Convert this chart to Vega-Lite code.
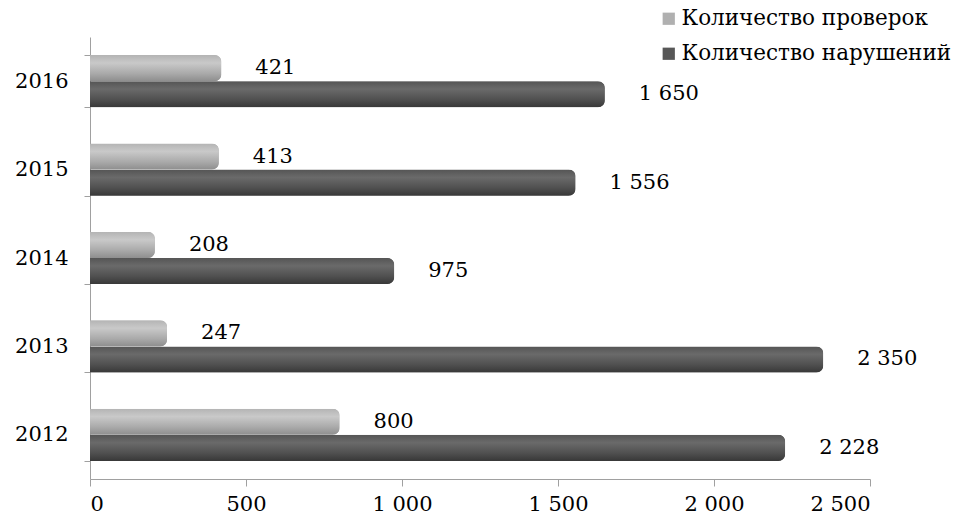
{
  "$schema": "https://vega.github.io/schema/vega-lite/v6.json",
  "width": 780,
  "height": 442,
  "autosize": {"type": "none"},
  "padding": {"left": 90, "top": 37, "right": 86, "bottom": 43},
  "background": "white",
  "config": {
    "locale": {"number": {"decimal": ",", "thousands": " ", "grouping": [3], "currency": ["", ""]}},
    "font": "DejaVu Serif",
    "view": {"stroke": null}
  },
  "data": {
    "values": [
      {"year": "2016", "series": "Количество проверок", "value": 421},
      {"year": "2016", "series": "Количество нарушений", "value": 1650},
      {"year": "2015", "series": "Количество проверок", "value": 413},
      {"year": "2015", "series": "Количество нарушений", "value": 1556},
      {"year": "2014", "series": "Количество проверок", "value": 208},
      {"year": "2014", "series": "Количество нарушений", "value": 975},
      {"year": "2013", "series": "Количество проверок", "value": 247},
      {"year": "2013", "series": "Количество нарушений", "value": 2350},
      {"year": "2012", "series": "Количество проверок", "value": 800},
      {"year": "2012", "series": "Количество нарушений", "value": 2228}
    ]
  },
  "encoding": {
    "y": {
      "field": "year", "type": "nominal", "sort": "descending",
      "scale": {"paddingInner": 0.41, "paddingOuter": 0.205},
      "axis": {
        "title": null, "tickBand": "extent", "domainColor": "#a0a0a0", "tickColor": "#a0a0a0",
        "tickSize": 6, "labelFont": "DejaVu Serif", "labelFontSize": 21, "labelColor": "#000", "labelPadding": 16
      }
    },
    "yOffset": {
      "field": "series", "type": "nominal",
      "sort": ["Количество проверок", "Количество нарушений"],
      "scale": {"paddingInner": 0}
    },
    "x": {
      "field": "value", "type": "quantitative",
      "scale": {"domain": [0, 2500]},
      "axis": {
        "title": null, "values": [0, 500, 1000, 1500, 2000, 2500], "format": ",d", "grid": false,
        "domainColor": "#a0a0a0", "tickColor": "#a0a0a0", "tickSize": 7,
        "labelFont": "DejaVu Serif", "labelFontSize": 21, "labelColor": "#000", "labelPadding": 7
      }
    }
  },
  "layer": [
    {
      "mark": {"type": "bar", "cornerRadiusEnd": 7},
      "encoding": {
        "color": {
          "field": "series", "type": "nominal",
          "scale": {"domain": ["Количество проверок", "Количество нарушений"], "range": ["#b0b0b0", "#575757"]},
          "legend": {
            "title": null, "orient": "none", "legendX": 568, "legendY": -29,
            "symbolType": "square", "symbolSize": 150, "symbolStrokeWidth": 0,
            "labelFont": "DejaVu Serif", "labelFontSize": 21.5, "labelColor": "#000", "labelLimit": 400,
            "rowPadding": 12, "labelOffset": 2
          }
        }
      }
    },
    {
      "transform": [{"filter": "datum.series === 'Количество проверок'"}],
      "mark": {
        "type": "bar", "cornerRadiusEnd": 7,
        "color": {"gradient": "linear", "x1": 0, "y1": 0, "x2": 0, "y2": 1,
          "stops": [{"offset": 0, "color": "#b4b4b4"}, {"offset": 0.3, "color": "#c9c9c9"}, {"offset": 0.7, "color": "#aaaaaa"}, {"offset": 1, "color": "#8e8e8e"}]}
      }
    },
    {
      "transform": [{"filter": "datum.series === 'Количество нарушений'"}],
      "mark": {
        "type": "bar", "cornerRadiusEnd": 7,
        "color": {"gradient": "linear", "x1": 0, "y1": 0, "x2": 0, "y2": 1,
          "stops": [{"offset": 0, "color": "#555555"}, {"offset": 0.3, "color": "#6a6a6a"}, {"offset": 0.7, "color": "#505050"}, {"offset": 1, "color": "#383838"}]}
      }
    },
    {
      "mark": {"type": "text", "align": "left", "baseline": "middle", "dx": 34, "font": "DejaVu Serif", "fontSize": 21, "color": "#000"},
      "encoding": {
        "text": {"field": "value", "type": "quantitative", "format": ","}
      }
    }
  ]
}
